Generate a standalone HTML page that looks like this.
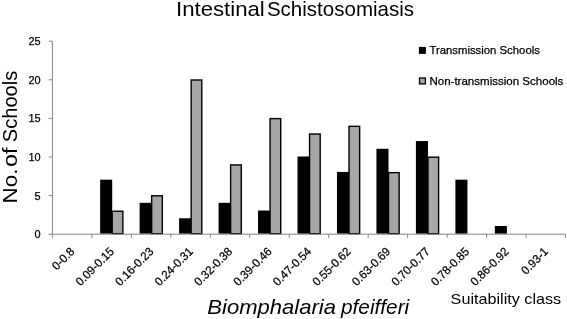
<!DOCTYPE html>
<html lang="en"><head><meta charset="utf-8"><title>Intestinal Schistosomiasis</title>
<style>html,body{margin:0;padding:0;background:#fff;}body{width:567px;height:319px;overflow:hidden;}svg{display:block;}text{font-family:"Liberation Sans", Arial, sans-serif;fill:#000;}.b{stroke:#000;stroke-width:0.25px;}</style></head><body>
<svg width="567" height="319" viewBox="0 0 567 319">
<rect x="0" y="0" width="567" height="319" fill="#ffffff"/>
<text x="176.0" y="16.3" font-size="19.8" textLength="88.8" lengthAdjust="spacingAndGlyphs">Intestinal</text>
<text x="266.9" y="16.3" font-size="19.8" textLength="147.2" lengthAdjust="spacingAndGlyphs">Schistosomiasis</text>
<rect x="100.15" y="179.66" width="12.05" height="54.04" fill="#000"/>
<rect x="112.20" y="211.24" width="10.65" height="22.46" fill="#a6a6a6" stroke="#000" stroke-width="1.4"/>
<rect x="139.62" y="202.82" width="12.05" height="30.88" fill="#000"/>
<rect x="151.67" y="195.80" width="10.65" height="37.90" fill="#a6a6a6" stroke="#000" stroke-width="1.4"/>
<rect x="179.09" y="218.26" width="12.05" height="15.44" fill="#000"/>
<rect x="191.14" y="80.00" width="10.65" height="153.70" fill="#a6a6a6" stroke="#000" stroke-width="1.4"/>
<rect x="218.57" y="202.82" width="12.05" height="30.88" fill="#000"/>
<rect x="230.62" y="164.92" width="10.65" height="68.78" fill="#a6a6a6" stroke="#000" stroke-width="1.4"/>
<rect x="258.03" y="210.54" width="12.05" height="23.16" fill="#000"/>
<rect x="270.08" y="118.60" width="10.65" height="115.10" fill="#a6a6a6" stroke="#000" stroke-width="1.4"/>
<rect x="297.50" y="156.50" width="12.05" height="77.20" fill="#000"/>
<rect x="309.56" y="134.04" width="10.65" height="99.66" fill="#a6a6a6" stroke="#000" stroke-width="1.4"/>
<rect x="336.97" y="171.94" width="12.05" height="61.76" fill="#000"/>
<rect x="349.02" y="126.32" width="10.65" height="107.38" fill="#a6a6a6" stroke="#000" stroke-width="1.4"/>
<rect x="376.44" y="148.78" width="12.05" height="84.92" fill="#000"/>
<rect x="388.50" y="172.64" width="10.65" height="61.06" fill="#a6a6a6" stroke="#000" stroke-width="1.4"/>
<rect x="415.91" y="141.06" width="12.05" height="92.64" fill="#000"/>
<rect x="427.96" y="157.20" width="10.65" height="76.50" fill="#a6a6a6" stroke="#000" stroke-width="1.4"/>
<rect x="455.38" y="179.66" width="12.05" height="54.04" fill="#000"/>
<rect x="494.85" y="225.98" width="12.05" height="7.72" fill="#000"/>
<g stroke="#868686" stroke-width="1" fill="none">
<line x1="52.40" y1="41.20" x2="52.40" y2="234.20"/>
<line x1="52.40" y1="234.20" x2="565.51" y2="234.20"/>
<line x1="48.70" y1="234.20" x2="52.40" y2="234.20"/>
<line x1="48.70" y1="195.60" x2="52.40" y2="195.60"/>
<line x1="48.70" y1="157.00" x2="52.40" y2="157.00"/>
<line x1="48.70" y1="118.40" x2="52.40" y2="118.40"/>
<line x1="48.70" y1="79.80" x2="52.40" y2="79.80"/>
<line x1="48.70" y1="41.20" x2="52.40" y2="41.20"/>
<line x1="52.40" y1="234.20" x2="52.40" y2="237.90"/>
<line x1="91.87" y1="234.20" x2="91.87" y2="237.90"/>
<line x1="131.34" y1="234.20" x2="131.34" y2="237.90"/>
<line x1="170.81" y1="234.20" x2="170.81" y2="237.90"/>
<line x1="210.28" y1="234.20" x2="210.28" y2="237.90"/>
<line x1="249.75" y1="234.20" x2="249.75" y2="237.90"/>
<line x1="289.22" y1="234.20" x2="289.22" y2="237.90"/>
<line x1="328.69" y1="234.20" x2="328.69" y2="237.90"/>
<line x1="368.16" y1="234.20" x2="368.16" y2="237.90"/>
<line x1="407.63" y1="234.20" x2="407.63" y2="237.90"/>
<line x1="447.10" y1="234.20" x2="447.10" y2="237.90"/>
<line x1="486.57" y1="234.20" x2="486.57" y2="237.90"/>
<line x1="526.04" y1="234.20" x2="526.04" y2="237.90"/>
<line x1="565.51" y1="234.20" x2="565.51" y2="237.90"/>
</g>
<text x="40.6" y="238.10" font-size="11.8" class="b" text-anchor="end" textLength="6.1" lengthAdjust="spacingAndGlyphs">0</text>
<text x="40.6" y="199.50" font-size="11.8" class="b" text-anchor="end" textLength="6.1" lengthAdjust="spacingAndGlyphs">5</text>
<text x="40.6" y="160.90" font-size="11.8" class="b" text-anchor="end" textLength="12.2" lengthAdjust="spacingAndGlyphs">10</text>
<text x="40.6" y="122.30" font-size="11.8" class="b" text-anchor="end" textLength="12.2" lengthAdjust="spacingAndGlyphs">15</text>
<text x="40.6" y="83.70" font-size="11.8" class="b" text-anchor="end" textLength="12.2" lengthAdjust="spacingAndGlyphs">20</text>
<text x="40.6" y="45.10" font-size="11.8" class="b" text-anchor="end" textLength="12.2" lengthAdjust="spacingAndGlyphs">25</text>
<text transform="translate(75.23 252.30) rotate(-45)" x="0" y="0" font-size="11.8" class="b" text-anchor="end" textLength="26.1" lengthAdjust="spacingAndGlyphs">0-0.8</text>
<text transform="translate(114.70 252.30) rotate(-45)" x="0" y="0" font-size="11.8" class="b" text-anchor="end" textLength="48.4" lengthAdjust="spacingAndGlyphs">0.09-0.15</text>
<text transform="translate(154.17 252.30) rotate(-45)" x="0" y="0" font-size="11.8" class="b" text-anchor="end" textLength="48.4" lengthAdjust="spacingAndGlyphs">0.16-0.23</text>
<text transform="translate(193.64 252.30) rotate(-45)" x="0" y="0" font-size="11.8" class="b" text-anchor="end" textLength="48.4" lengthAdjust="spacingAndGlyphs">0.24-0.31</text>
<text transform="translate(233.12 252.30) rotate(-45)" x="0" y="0" font-size="11.8" class="b" text-anchor="end" textLength="48.4" lengthAdjust="spacingAndGlyphs">0.32-0.38</text>
<text transform="translate(272.58 252.30) rotate(-45)" x="0" y="0" font-size="11.8" class="b" text-anchor="end" textLength="48.4" lengthAdjust="spacingAndGlyphs">0.39-0.46</text>
<text transform="translate(312.06 252.30) rotate(-45)" x="0" y="0" font-size="11.8" class="b" text-anchor="end" textLength="48.4" lengthAdjust="spacingAndGlyphs">0.47-0.54</text>
<text transform="translate(351.52 252.30) rotate(-45)" x="0" y="0" font-size="11.8" class="b" text-anchor="end" textLength="48.4" lengthAdjust="spacingAndGlyphs">0.55-0.62</text>
<text transform="translate(391.00 252.30) rotate(-45)" x="0" y="0" font-size="11.8" class="b" text-anchor="end" textLength="48.4" lengthAdjust="spacingAndGlyphs">0.63-0.69</text>
<text transform="translate(430.46 252.30) rotate(-45)" x="0" y="0" font-size="11.8" class="b" text-anchor="end" textLength="48.4" lengthAdjust="spacingAndGlyphs">0.70-0.77</text>
<text transform="translate(469.94 252.30) rotate(-45)" x="0" y="0" font-size="11.8" class="b" text-anchor="end" textLength="48.4" lengthAdjust="spacingAndGlyphs">0.78-0.85</text>
<text transform="translate(509.40 252.30) rotate(-45)" x="0" y="0" font-size="11.8" class="b" text-anchor="end" textLength="48.4" lengthAdjust="spacingAndGlyphs">0.86-0.92</text>
<text transform="translate(548.88 252.30) rotate(-45)" x="0" y="0" font-size="11.8" class="b" text-anchor="end" textLength="32.5" lengthAdjust="spacingAndGlyphs">0.93-1</text>
<g transform="translate(17 0) rotate(-90)" font-size="19.8">
<text x="-203.4" y="0" textLength="34.8" lengthAdjust="spacingAndGlyphs">No.</text>
<text x="-166.9" y="0" textLength="19.5" lengthAdjust="spacingAndGlyphs">of</text>
<text x="-142.2" y="0" textLength="71.5" lengthAdjust="spacingAndGlyphs">Schools</text>
</g>
<rect x="418.9" y="46.9" width="7" height="7" fill="#000"/>
<text x="429.4" y="54" font-size="11.6" class="b" textLength="110.5" lengthAdjust="spacingAndGlyphs">Transmission Schools</text>
<rect x="419.5" y="78.0" width="5.9" height="5.9" fill="#a6a6a6" stroke="#000" stroke-width="1.3"/>
<text x="429.4" y="84.6" font-size="11.6" class="b" textLength="134" lengthAdjust="spacingAndGlyphs">Non-transmission Schools</text>
<text x="207.3" y="313.7" font-size="19.8" font-style="italic" textLength="128.6" lengthAdjust="spacingAndGlyphs">Biomphalaria</text>
<text x="341.0" y="313.7" font-size="19.8" font-style="italic" textLength="68.2" lengthAdjust="spacingAndGlyphs">pfeifferi</text>
<text x="450.6" y="304.2" font-size="14.4" textLength="110.6" lengthAdjust="spacingAndGlyphs">Suitability class</text>
</svg></body></html>
